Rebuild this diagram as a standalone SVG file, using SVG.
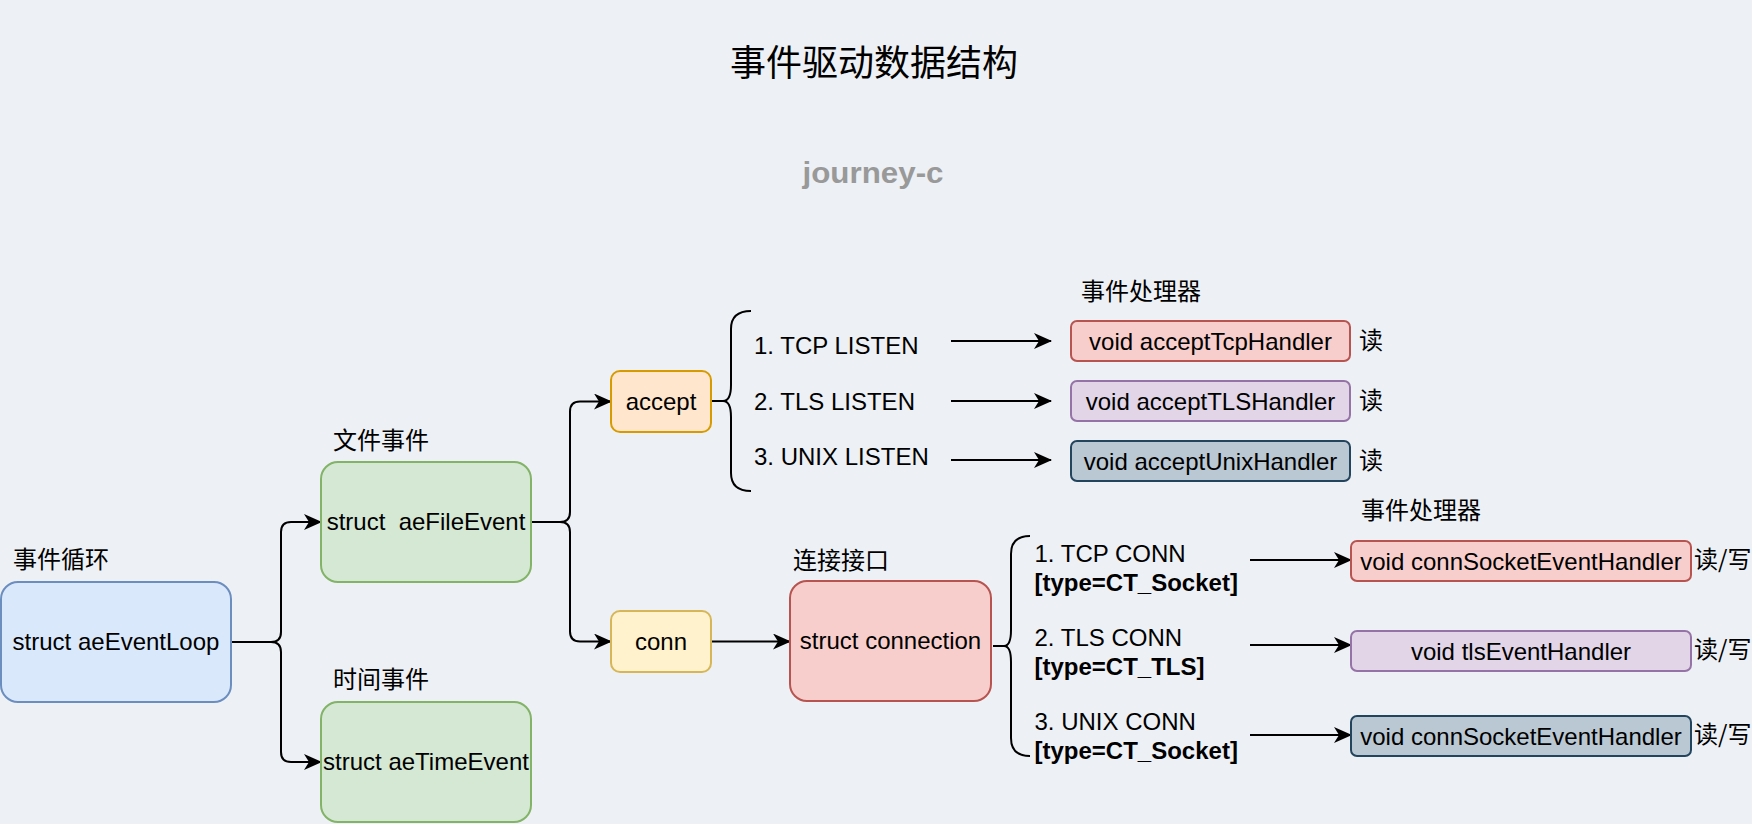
<svg xmlns="http://www.w3.org/2000/svg" width="1752" height="824" viewBox="0 0 1752 824">
<style>
text{font-family:"Liberation Sans",Arial,"Noto Sans CJK SC",sans-serif;font-size:24px;fill:#000}
.cjk{font-family:"Noto Sans CJK SC","Liberation Sans",sans-serif}
.c{text-anchor:middle}
.b{font-weight:bold}
.box{stroke-width:2}
.blue{fill:#dae8fc;stroke:#6c8ebf}
.green{fill:#d5e8d4;stroke:#82b366}
.orange{fill:#ffe6cc;stroke:#d79b00}
.yellow{fill:#fff2cc;stroke:#d6b656}
.red{fill:#f8cecc;stroke:#b85450}
.purple{fill:#e1d5e7;stroke:#9673a6}
.slate{fill:#bac8d3;stroke:#23445d}
.edge{fill:none;stroke:#000;stroke-width:2}
.arr{marker-end:url(#ah)}
</style>
<defs>
<marker id="ah" markerUnits="userSpaceOnUse" viewBox="0 0 18 16" refX="17" refY="8" markerWidth="18" markerHeight="16" orient="auto">
<path d="M0,0 L18,8 L0,16 L5,8 Z" fill="#000"/>
</marker>
</defs>
<rect x="0" y="0" width="1752" height="824" fill="#edf0f4"/>

<g id="title">
<text class="cjk c" x="874" y="76" style="font-size:36px">事件驱动数据结构</text>
<text class="c" x="873" y="183" style="font-size:30px;font-weight:bold;fill:#999999" textLength="141" lengthAdjust="spacingAndGlyphs">journey-c</text>
</g>

<g id="connectors">
<path class="edge arr" d="M231,642 H271 Q281,642 281,632 V532 Q281,522 291,522 H321"/>
<path class="edge arr" d="M231,642 H271 Q281,642 281,652 V752 Q281,762 291,762 H321"/>
<path class="edge arr" d="M531,522 H560 Q570,522 570,512 V411.5 Q570,401.5 580,401.5 H611"/>
<path class="edge arr" d="M531,522 H560 Q570,522 570,532 V631.5 Q570,641.5 580,641.5 H611"/>
<path class="edge arr" d="M711,641.5 H790"/>
<path class="edge" d="M711,401 H724"/>
<path class="edge" d="M751,311 Q731,311 731,329 V385 Q731,401 723,401 Q731,401 731,417 V473 Q731,491 751,491"/>
<path class="edge" d="M993,646 H1005"/>
<path class="edge" d="M1030,536 Q1011,536 1011,554 V630 Q1011,646 1004,646 Q1011,646 1011,662 V738 Q1011,756 1030,756"/>
<path class="edge arr" d="M951,341 H1051"/>
<path class="edge arr" d="M951,401 H1051"/>
<path class="edge arr" d="M951,460 H1051"/>
<path class="edge arr" d="M1250,560 H1351"/>
<path class="edge arr" d="M1250,645 H1351"/>
<path class="edge arr" d="M1250,735 H1351"/>
</g>

<g id="aeEventLoop">
<text class="cjk" x="13" y="568">事件循环</text>
<rect class="box blue" x="1" y="582" width="230" height="120" rx="17"/>
<text class="c" x="116" y="650">struct aeEventLoop</text>
</g>

<g id="aeFileEvent">
<text class="cjk" x="333" y="449">文件事件</text>
<rect class="box green" x="321" y="462" width="210" height="120" rx="17"/>
<text class="c" x="426" y="530" xml:space="preserve">struct  aeFileEvent</text>
</g>

<g id="aeTimeEvent">
<text class="cjk" x="333" y="688">时间事件</text>
<rect class="box green" x="321" y="702" width="210" height="120" rx="17"/>
<text class="c" x="426" y="770">struct aeTimeEvent</text>
</g>

<g id="accept">
<rect class="box orange" x="611" y="371" width="100" height="61" rx="9"/>
<text class="c" x="661" y="410">accept</text>
</g>

<g id="conn">
<rect class="box yellow" x="611" y="611" width="100" height="61" rx="9"/>
<text class="c" x="661" y="650">conn</text>
</g>

<g id="connection">
<text class="cjk" x="793" y="569">连接接口</text>
<rect class="box red" x="790" y="581" width="201" height="120" rx="17"/>
<text class="c" x="890.5" y="649">struct connection</text>
</g>

<g id="listen-labels">
<text x="754" y="354">1. TCP LISTEN</text>
<text x="754" y="409.5">2. TLS LISTEN</text>
<text x="754" y="465">3. UNIX LISTEN</text>
</g>

<g id="conn-labels">
<text x="1034.5" y="561.7">1. TCP CONN</text>
<text class="b" x="1034.5" y="590.7">[type=CT_Socket]</text>
<text x="1034.5" y="645.7">2. TLS CONN</text>
<text class="b" x="1034.5" y="675">[type=CT_TLS]</text>
<text x="1034.5" y="730">3. UNIX CONN</text>
<text class="b" x="1034.5" y="759.3">[type=CT_Socket]</text>
</g>

<g id="accept-handlers">
<text class="cjk" x="1081" y="300">事件处理器</text>
<g id="acceptTcpHandler">
<rect class="box red" x="1071" y="321" width="279" height="40" rx="6"/>
<text class="c" x="1210.5" y="349.5">void acceptTcpHandler</text>
<text class="cjk" x="1359" y="349">读</text>
</g>
<g id="acceptTLSHandler">
<rect class="box purple" x="1071" y="381" width="279" height="40" rx="6"/>
<text class="c" x="1210.5" y="409.5">void acceptTLSHandler</text>
<text class="cjk" x="1359" y="409">读</text>
</g>
<g id="acceptUnixHandler">
<rect class="box slate" x="1071" y="441" width="279" height="40" rx="6"/>
<text class="c" x="1210.5" y="469.5">void acceptUnixHandler</text>
<text class="cjk" x="1359" y="469">读</text>
</g>
</g>

<g id="conn-handlers">
<text class="cjk" x="1361" y="519">事件处理器</text>
<g id="connSocketEventHandler1">
<rect class="box red" x="1351" y="541" width="340" height="40" rx="6"/>
<text class="c" x="1521" y="569.5">void connSocketEventHandler</text>
<text class="cjk" x="1694" y="568">读/写</text>
</g>
<g id="tlsEventHandler">
<rect class="box purple" x="1351" y="631" width="340" height="40" rx="6"/>
<text class="c" x="1521" y="659.5">void tlsEventHandler</text>
<text class="cjk" x="1694" y="658">读/写</text>
</g>
<g id="connSocketEventHandler2">
<rect class="box slate" x="1351" y="716" width="340" height="40" rx="6"/>
<text class="c" x="1521" y="744.5">void connSocketEventHandler</text>
<text class="cjk" x="1694" y="743">读/写</text>
</g>
</g>
</svg>
